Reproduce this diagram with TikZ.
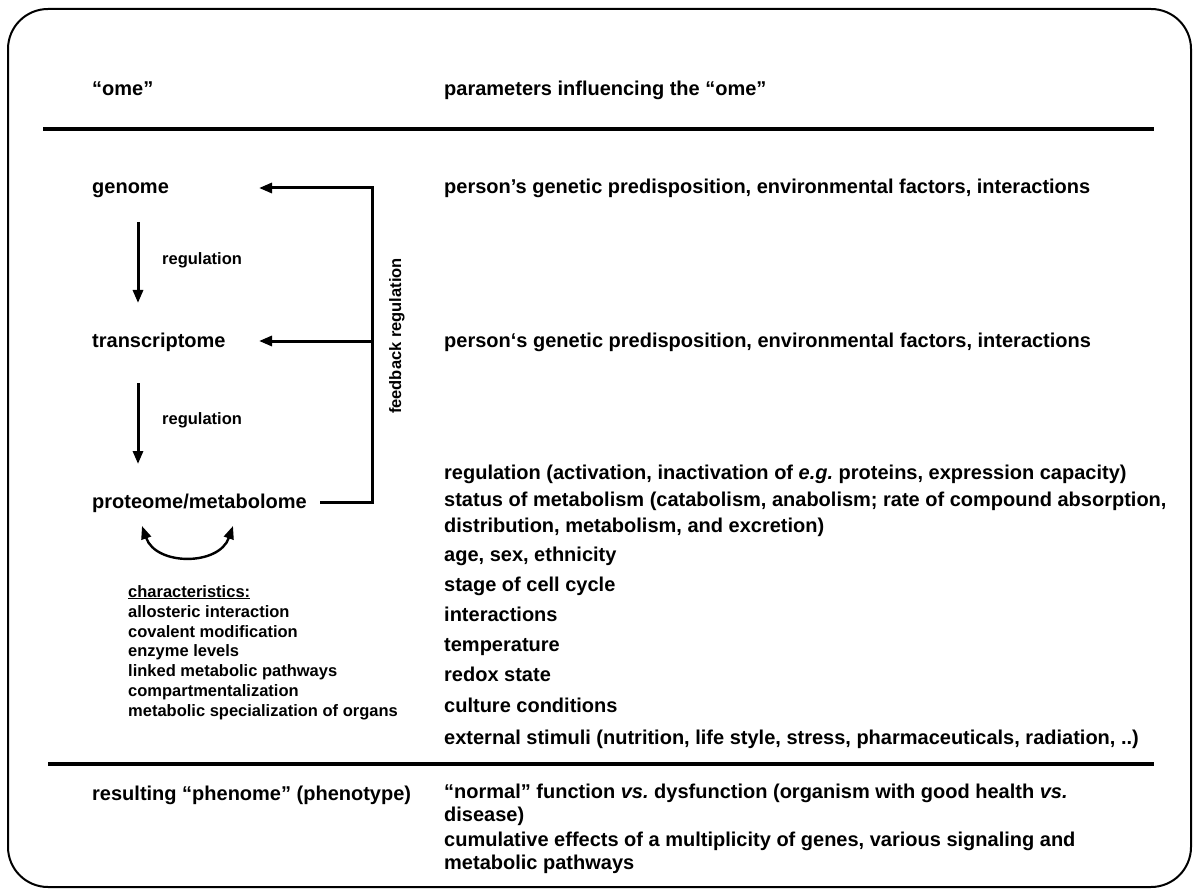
\documentclass[tikz,border=0pt]{standalone}
\usepackage{fontspec}
\setmainfont{Liberation Sans}
\usetikzlibrary{arrows.meta}
\frenchspacing

\begin{document}
\begin{tikzpicture}[x=1pt,y=-1pt,>={Triangle[length=13pt,width=10pt]},
    txt/.style={anchor=base west,inner sep=0pt,font=\fontsize{20}{24}\selectfont\bfseries},
    small/.style={anchor=base west,inner sep=0pt,font=\fontsize{16.5}{20}\selectfont\bfseries},
    rule/.style={line width=3.6pt},
    conn/.style={line width=3pt}]
  \useasboundingbox (0,0) rectangle (1193,890);
  \draw[line width=2pt,rounded corners=40pt] (8,9) rectangle (1191,887);
  \node[txt] (ome) at (92,96) {“ome”};
  \node[txt] (params) at (444,96) {parameters influencing the “ome”};
  \draw[rule] (43,129) -- (1154,129);
  \draw[rule] (48,764) -- (1154,764);
  \node[txt] (genome) at (92,194) {genome};
  \node[txt] (transcriptome) at (92,347) {transcriptome};
  \node[txt] (proteome) at (92,508) {proteome/metabolome};
  \node[txt] (phenome) at (92,800) {resulting “phenome” (phenotype)};
  \coordinate (reg1a) at (138,222);
  \coordinate (reg1b) at (138,303);
  \coordinate (reg2a) at (138,383);
  \coordinate (reg2b) at (138,464);
  \draw[conn,->] (reg1a) -- (reg1b);
  \draw[conn,->] (reg2a) -- (reg2b);
  \node[small] (reg1) at (162,265) {regulation};
  \node[small] (reg2) at (162,424) {regulation};
  \coordinate (fbstart) at (320,502);
  \coordinate (fbcorner) at (372,502);
  \coordinate (fbtop) at (372,188);
  \coordinate (fbmid) at (372,341);
  \coordinate (fbgen) at (259,188);
  \coordinate (fbtra) at (259,341);
  \draw[conn,->] (fbstart) -- (fbcorner) -- (fbtop) -- (fbgen);
  \draw[conn,->] (fbmid) -- (fbtra);
  \node[small,anchor=center,rotate=90] (feedback) at (397,336) {feedback regulation};
  \coordinate (cycleL) at (142,526);
  \coordinate (cycleR) at (233,526);
  \draw[line width=2.4pt,<->] (cycleL) .. controls (156,566) and (219,566) .. (cycleR);
  \node[small] (char0) at (128,597) {\underline{characteristics:}};
  \node[small] (char1) at (128,617) {allosteric interaction};
  \node[small] (char2) at (128,637) {covalent modification};
  \node[small] (char3) at (128,656) {enzyme levels};
  \node[small] (char4) at (128,676) {linked metabolic pathways};
  \node[small] (char5) at (128,696) {compartmentalization};
  \node[small] (char6) at (128,716) {metabolic specialization of organs};
  \node[txt] (par1) at (444,194) {person's genetic predisposition, environmental factors, interactions};
  \node[txt] (par2) at (444,347) {person‘s genetic predisposition, environmental factors, interactions};
  \node[txt] (par3) at (444,479) {regulation (activation, inactivation of \textit{e.g.} proteins, expression capacity)};
  \node[txt] (par4) at (444,506) {status of metabolism (catabolism, anabolism; rate of compound absorption,};
  \node[txt] (par5) at (444,532) {distribution, metabolism, and excretion)};
  \node[txt] (par6) at (444,561) {age, sex, ethnicity};
  \node[txt] (par7) at (444,591) {stage of cell cycle};
  \node[txt] (par8) at (444,621) {interactions};
  \node[txt] (par9) at (444,651) {temperature};
  \node[txt] (par10) at (444,681) {redox state};
  \node[txt] (par11) at (444,712) {culture conditions};
  \node[txt] (par12) at (444,744) {external stimuli (nutrition, life style, stress, pharmaceuticals, radiation, ..)};
  \node[txt] (res1) at (444,798) {“normal” function \textit{vs.} dysfunction (organism with good health \textit{vs.}};
  \node[txt] (res2) at (444,821) {disease)};
  \node[txt] (res3) at (444,846) {cumulative effects of a multiplicity of genes, various signaling and};
  \node[txt] (res4) at (444,869) {metabolic pathways};
\end{tikzpicture}
\end{document}
